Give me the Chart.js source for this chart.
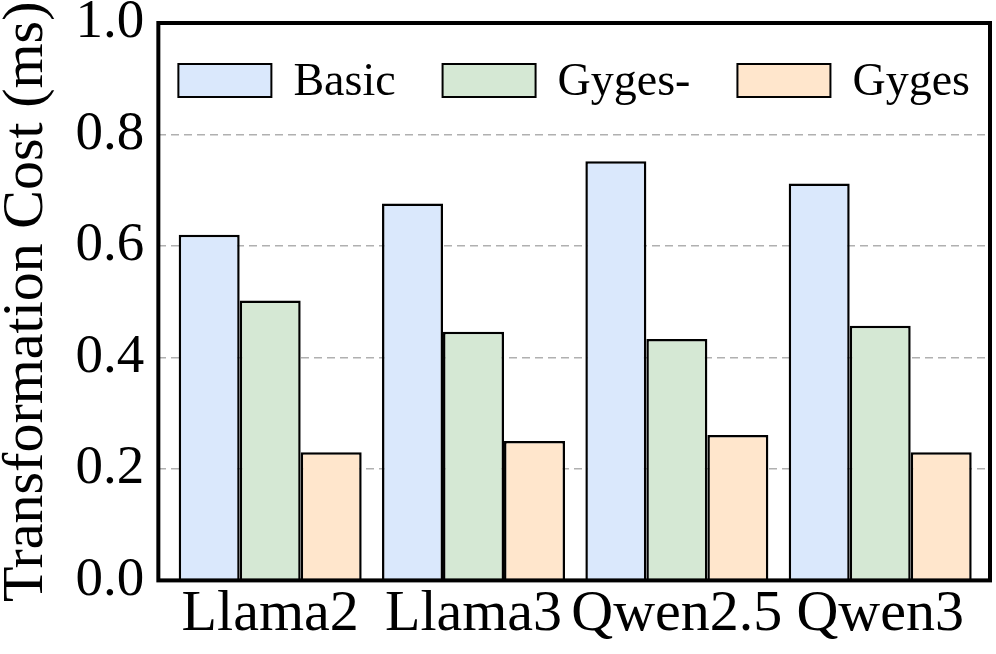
<!DOCTYPE html>
<html>
<head>
<meta charset="utf-8">
<script src="https://cdn.jsdelivr.net/npm/chart.js@4.4.1/dist/chart.umd.min.js"></script>
<style>
    html, body { margin: 0; padding: 0; background: #fff; }
    #wrap { width: 996px; height: 654px; position: relative; }
</style>
</head>
<body>
<div id="wrap"><canvas id="costChart"></canvas></div>
<script>
const models = ['Llama2', 'Llama3', 'Qwen2.5', 'Qwen3'];
const basic = [0.62, 0.676, 0.752, 0.712];
const gygesMinus = [0.502, 0.446, 0.433, 0.457];
const gyges = [0.23, 0.25, 0.261, 0.23];
const yTicks = [0.0, 0.2, 0.4, 0.6, 0.8, 1.0];

const serif = 'Liberation Serif';

// Black frame around the plot area + legend drawn inside it
const framePlugin = {
    id: 'frame',
    afterDraw(chart) {
        const a = chart.chartArea;
        const ctx = chart.ctx;
        ctx.save();

        // legend inside the plot, one row, centred
        const boxW = 93, boxH = 33, gap = 22, itemGap = 47;
        ctx.font = '46px "' + serif + '"';
        const items = chart.data.datasets.map(ds => ({
            label: ds.label,
            fill: ds.backgroundColor,
            w: boxW + gap + ctx.measureText(ds.label).width
        }));
        const total = items.reduce((s, it) => s + it.w, 0) + itemGap * (items.length - 1);
        let x = (a.left + a.right) / 2 - total / 2;
        const boxTop = a.top + 41;
        ctx.textBaseline = 'middle';
        ctx.textAlign = 'left';
        items.forEach(it => {
            ctx.fillStyle = it.fill;
            ctx.fillRect(x, boxTop, boxW, boxH);
            ctx.strokeStyle = '#000';
            ctx.lineWidth = 2;
            ctx.strokeRect(x, boxTop, boxW, boxH);
            ctx.fillStyle = '#000';
            ctx.fillText(it.label, x + boxW + gap, boxTop + boxH / 2 + 2);
            x += it.w + itemGap;
        });

        ctx.strokeStyle = '#000';
        ctx.lineWidth = 4;
        ctx.strokeRect(a.left, a.top, a.right - a.left, a.bottom - a.top);
        ctx.restore();
    }
};

new Chart(document.getElementById('costChart'), {
    type: 'bar',
    data: {
        labels: models,
        datasets: [
            { label: 'Basic', data: basic, backgroundColor: '#dae8fc' },
            { label: 'Gyges-', data: gygesMinus, backgroundColor: '#d5e8d4' },
            { label: 'Gyges', data: gyges, backgroundColor: '#ffe6cc' }
        ].map(d => Object.assign(d, {
            borderColor: '#000',
            borderWidth: 2.5,
            categoryPercentage: 0.9,
            barPercentage: 1.0
        }))
    },
    options: {
        responsive: true,
        maintainAspectRatio: false,
        animation: false,
        devicePixelRatio: 1,
        layout: { padding: { top: 23, right: 6, bottom: 4, left: -8 } },
        plugins: {
            tooltip: { enabled: false },
            legend: { display: false }
        },
        scales: {
            x: {
                afterBuildTicks(axis) {
                    // slightly wider side margins than the default half category
                    axis._startValue = -0.55;
                    axis._valueRange = models.length - 1 + 1.09;
                },
                grid: { display: false, drawTicks: false },
                border: { display: false },
                ticks: {
                    color: '#000',
                    font: { family: serif, size: 58 },
                    padding: 0,
                    autoSkip: false,
                    maxRotation: 0,
                    minRotation: 0
                }
            },
            y: {
                min: 0,
                max: 1.0,
                afterBuildTicks(axis) {
                    axis.ticks = yTicks.map(v => ({ value: v }));
                },
                afterFit(axis) {
                    // the "1.0" label may stick out above the frame, as in the figure
                    axis.paddingTop = 0;
                    axis.paddingBottom = 0;
                },
                grid: {
                    drawTicks: false,
                    color: c => (c.tick.value > 0 && c.tick.value < 1) ? '#b0b0b0' : 'rgba(0,0,0,0)',
                    lineWidth: 1.5
                },
                border: { display: false, dash: [8, 5] },
                ticks: {
                    color: '#000',
                    font: { family: serif, size: 55 },
                    padding: 14,
                    callback: v => Number(v).toFixed(1)
                },
                title: {
                    display: true,
                    text: 'Transformation Cost (ms)',
                    color: '#000',
                    font: { family: serif, size: 58 },
                    padding: { top: 0, bottom: 0 }
                }
            }
        }
    },
    plugins: [framePlugin]
});
</script>
</body>
</html>
